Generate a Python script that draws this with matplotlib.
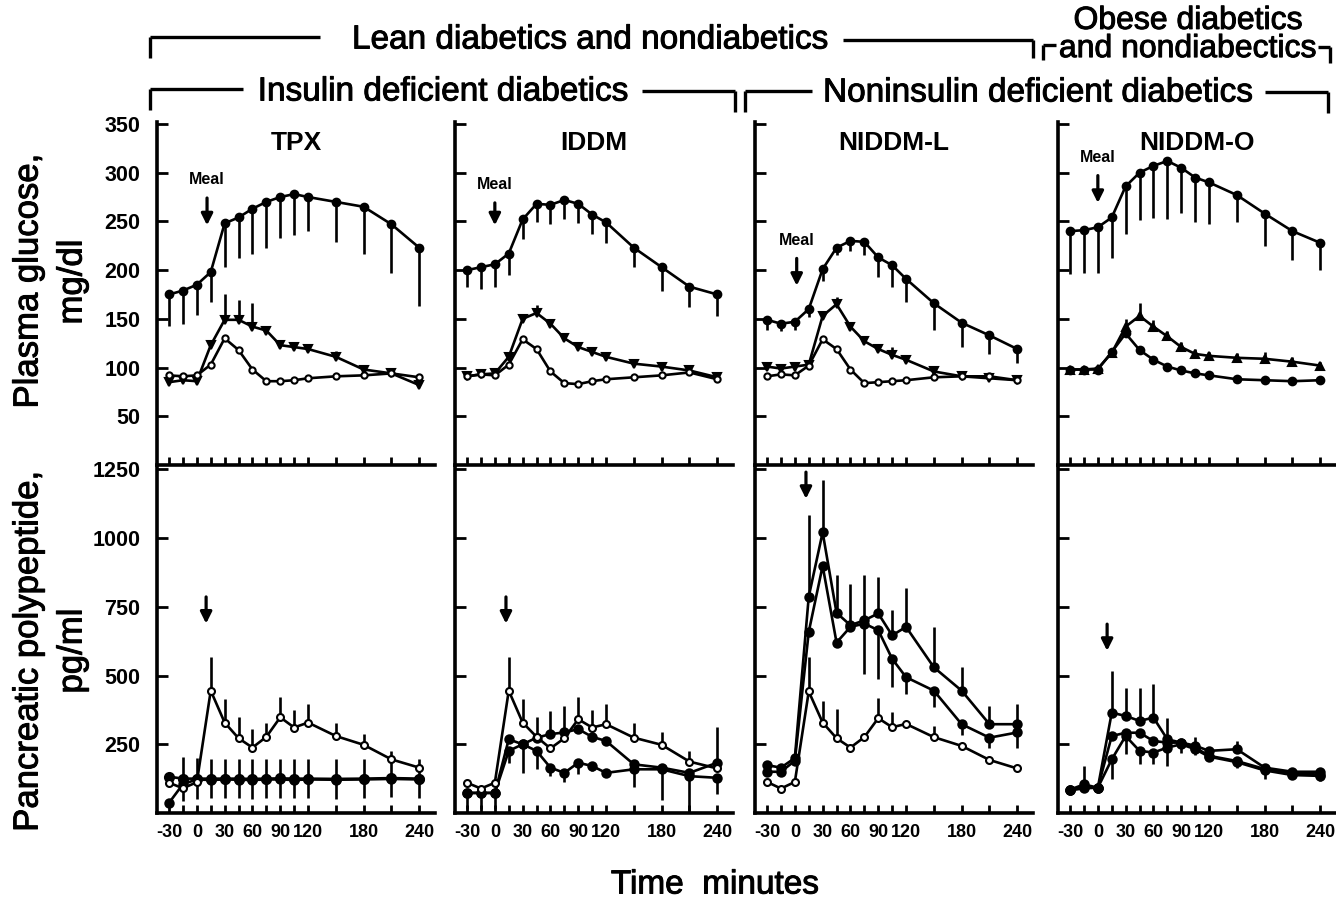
import matplotlib
matplotlib.use("Agg")
import matplotlib.pyplot as plt
import matplotlib.patheffects as pe
from matplotlib.lines import Line2D

plt.rcParams["font.family"] = ["Liberation Sans", "DejaVu Sans"]

# ---------------- data -----------------------------------------------
TIMES = [-30, -15, 0, 15, 30, 45, 60, 75, 90, 105, 120, 150, 180, 210, 240]
XTICK_LABELS = ["-30", "", "0", "", "30", "", "60", "", "90", "", "120", "", "180", "", "240"]
PANELS = ["TPX", "IDDM", "NIDDM-L", "NIDDM-O"]
GLU_TICKS = [50, 100, 150, 200, 250, 300, 350]
PP_TICKS = [250, 500, 750, 1000, 1250]

# plasma glucose, mg/dl  (hi = diabetic group, mid = triangles, low = controls)
GLU_TPX_HI = [175, 179, 185, 198, 248, 254, 263, 270, 275, 278, 275, 270, 265, 247, 223]
GLU_TPX_HI_SEM = [32, 34, 31, 31, 45, 42, 46, 47, 42, 42, 35, 41, 48, 50, 60]
GLU_TPX_MID = [85, 87, 86, 123, 149, 149, 142, 138, 123, 121, 119, 111, 98, 94, 82]
GLU_TPX_MID_SEM = [0, 0, 0, 0, 27, 20, 24, 0, 0, 0, 0, 6, 0, 0, 0]
GLU_TPX_LOW = [92, 91, 92, 103, 130, 118, 98, 86, 86, 87, 89, 91, 92, 94, 90]

GLU_IDDM_HI = [200, 203, 206, 217, 252, 268, 267, 272, 268, 257, 249, 223, 203, 183, 175]
GLU_IDDM_HI_SEM = [17, 22, 23, 22, 20, 19, 20, 20, 20, 20, 21, 20, 24, 21, 22]
GLU_IDDM_MID = [91, 93, 94, 111, 150, 156, 145, 130, 121, 116, 111, 104, 101, 97, 90]
GLU_IDDM_MID_SEM = [0, 0, 0, 0, 0, 8, 0, 0, 0, 0, 0, 0, 0, 0, 0]
GLU_IDDM_LOW = [91, 93, 92, 103, 129, 119, 96, 84, 83, 86, 88, 90, 92, 95, 88]

GLU_NL_HI = [149, 145, 147, 160, 201, 223, 230, 229, 213, 205, 191, 166, 146, 133, 119]
GLU_NL_HI_SEM = [10, 7, 8, 8, 12, 8, 10, 14, 20, 22, 24, 27, 25, 19, 14]
GLU_NL_MID = [101, 99, 101, 103, 153, 165, 142, 127, 119, 113, 108, 96, 91, 89, 87]
GLU_NL_MID_SEM = [0, 0, 0, 0, 0, 7, 0, 0, 0, 8, 0, 0, 0, 0, 0]
GLU_NL_LOW = [91, 93, 92, 102, 129, 119, 98, 84, 85, 86, 87, 90, 91, 91, 87]

GLU_NO_HI = [240, 241, 244, 254, 286, 300, 307, 312, 305, 295, 290, 277, 258, 240, 228]
GLU_NO_HI_SEM = [44, 44, 47, 42, 49, 49, 54, 60, 46, 46, 43, 28, 33, 30, 28]
GLU_NO_MID = [98, 98, 99, 115, 142, 153, 142, 132, 121, 114, 112, 110, 109, 106, 102]
GLU_NO_MID_SEM = [0, 0, 0, 0, 8, 13, 7, 6, 5, 5, 4, 5, 7, 5, 4]
GLU_NO_LOW = [98, 98, 98, 116, 135, 118, 108, 101, 97, 94, 92, 88, 87, 86, 87]

# pancreatic polypeptide, pg/ml
PP_TPX_OPEN = [110, 90, 112, 445, 329, 272, 238, 277, 348, 311, 329, 280, 248, 195, 165]
PP_TPX_OPEN_SEM = [0, 0, 0, 122, 85, 76, 67, 52, 73, 64, 67, 49, 41, 30, 12]
PP_TPX_A = [132, 125, 125, 125, 125, 125, 124, 125, 126, 125, 125, 124, 125, 127, 125]
PP_TPX_A_SEM = [0, 80, 75, 70, 72, 70, 72, 70, 70, 70, 70, 72, 70, 70, 70]
PP_TPX_B = [37, 105, 122, 120, 122, 121, 120, 122, 122, 120, 122, 121, 122, 124, 122]

PP_IDDM_OPEN = [110, 89, 110, 445, 329, 277, 235, 272, 341, 311, 323, 274, 248, 187, 162]
PP_IDDM_OPEN_SEM = [0, 0, 0, 122, 86, 71, 0, 0, 80, 64, 73, 52, 45, 39, 0]
PP_IDDM_A = [73, 73, 73, 268, 250, 274, 287, 293, 305, 277, 262, 177, 165, 146, 183]
PP_IDDM_A_SEM = [0, 0, 0, 0, 0, 0, 83, 97, 0, 0, 0, 0, 0, 0, 130]
PP_IDDM_B = [73, 73, 73, 226, 250, 226, 165, 146, 183, 171, 146, 159, 159, 134, 128]
PP_IDDM_B_SEM = [60, 60, 60, 43, 104, 65, 30, 35, 40, 20, 15, 65, 110, 125, 60]

PP_NL_OPEN = [113, 89, 113, 442, 329, 272, 238, 276, 345, 312, 324, 276, 244, 193, 162]
PP_NL_OPEN_SEM = [0, 0, 0, 125, 79, 105, 0, 0, 73, 54, 0, 40, 0, 0, 0]
PP_NL_A = [174, 165, 200, 787, 1021, 728, 683, 701, 726, 646, 677, 530, 445, 323, 323]
PP_NL_A_SEM = [0, 0, 0, 298, 190, 138, 150, 165, 131, 94, 140, 147, 85, 67, 73]
PP_NL_B = [150, 150, 190, 659, 899, 620, 677, 689, 665, 561, 494, 445, 323, 274, 293]
PP_NL_B_SEM = [0, 0, 0, 0, 0, 0, 0, 183, 177, 104, 61, 61, 40, 36, 55]

PP_NO_A = [85, 104, 92, 365, 353, 335, 347, 268, 256, 245, 226, 232, 165, 150, 150]
PP_NO_A_SEM = [0, 67, 0, 152, 103, 121, 121, 79, 0, 30, 0, 30, 0, 0, 0]
PP_NO_B = [85, 95, 92, 280, 292, 292, 262, 256, 256, 238, 208, 189, 160, 143, 140]
PP_NO_C = [82, 90, 92, 195, 280, 226, 220, 238, 250, 232, 205, 185, 155, 138, 135]
PP_NO_C_SEM = [0, 0, 0, 70, 66, 49, 43, 67, 30, 20, 15, 20, 30, 15, 20]

# meal arrows: time, arrow top, arrow tip
MEAL_GLU = [(11, 274, 246), (0, 269, 246), (2, 212, 184), (0, 297, 269)]
MEAL_PP = [(10, 786, 689), (12, 786, 689), (12, 1240, 1143), (10, 687, 590)]

# ---------------- layout (pixels of the 1336x906 original) -------------
W, H = 1336, 906
COL_LEFT = [157, 455, 755, 1058]
COL_W = 278
GLU_TOP, GLU_BOT = 122, 465
PP_TOP, PP_BOT = 468, 813

# slightly heavier strokes, like the printed original
HEAVY = [pe.withStroke(linewidth=0.7, foreground="black")]


def fx(px):
    return px / W


def fy(py):
    return 1 - py / H


def series(ax, y, sem=None, down=False, both=False, marker="o", open_=False, ms=5.5, z=3):
    if sem is None:
        sem = [0] * len(y)
    zero = [0] * len(y)
    if both:
        err = [sem, sem]
    elif down:
        err = [sem, zero]
    else:
        err = [zero, sem]
    ax.errorbar(TIMES, y, yerr=err, fmt="-", marker=marker, color="black",
                mfc="white" if open_ else "black", mec="black", mew=1.5,
                ms=ms, lw=1.9, elinewidth=1.9, capsize=0, zorder=z)


def style(ax, top_row, first_col):
    for s in ("top", "right"):
        ax.spines[s].set_visible(False)
    for s in ("left", "bottom"):
        ax.spines[s].set_linewidth(2.6)
    ax.set_xlim(-43, 257)
    ax.set_xticks(TIMES)
    ax.tick_params(axis="x", direction="in", length=6, width=2.0, pad=8,
                   labelsize=13)
    ax.tick_params(axis="y", direction="in", length=8, width=2.0, pad=12,
                   labelsize=15.5)
    if top_row:
        ax.set_ylim(0, 352)
        ax.set_yticks(GLU_TICKS)
        ax.set_xticklabels([])
    else:
        ax.set_ylim(0, 1255)
        ax.set_yticks(PP_TICKS)
        ax.set_xticklabels(XTICK_LABELS, fontweight="bold")
    if first_col:
        for lab in ax.get_yticklabels():
            lab.set_fontweight("bold")
    else:
        ax.tick_params(axis="y", labelleft=False)


def arrow(ax, t, y0, y1):
    ax.annotate("", xy=(t, y1), xytext=(t, y0),
                arrowprops=dict(arrowstyle="-|>", color="black", lw=2.3,
                                mutation_scale=17, shrinkA=0, shrinkB=0),
                zorder=6)


fig = plt.figure(figsize=(W / 100, H / 100), dpi=100)

glu_axes, pp_axes = [], []
for i, left in enumerate(COL_LEFT):
    ag = fig.add_axes([fx(left), fy(GLU_BOT), COL_W / W, (GLU_BOT - GLU_TOP) / H])
    ap = fig.add_axes([fx(left), fy(PP_BOT), COL_W / W, (PP_BOT - PP_TOP) / H])
    style(ag, True, i == 0)
    style(ap, False, i == 0)
    ag.text(0.5, 0.939, PANELS[i], transform=ag.transAxes, ha="center",
            va="center", fontsize=19, fontweight="bold")
    glu_axes.append(ag)
    pp_axes.append(ap)

# glucose panels
g = glu_axes
series(g[0], GLU_TPX_HI, GLU_TPX_HI_SEM, down=True)
series(g[0], GLU_TPX_MID, GLU_TPX_MID_SEM, marker="v", ms=6)
series(g[0], GLU_TPX_LOW, open_=True, ms=4.5, z=4)

series(g[1], GLU_IDDM_HI, GLU_IDDM_HI_SEM, down=True)
series(g[1], GLU_IDDM_MID, GLU_IDDM_MID_SEM, marker="v", ms=6)
series(g[1], GLU_IDDM_LOW, open_=True, ms=4.5, z=4)

series(g[2], GLU_NL_HI, GLU_NL_HI_SEM, down=True)
series(g[2], GLU_NL_MID, GLU_NL_MID_SEM, marker="v", ms=6)
series(g[2], GLU_NL_LOW, open_=True, ms=4.5, z=4)

series(g[3], GLU_NO_HI, GLU_NO_HI_SEM, down=True)
series(g[3], GLU_NO_MID, GLU_NO_MID_SEM, marker="^", ms=5.5)
series(g[3], GLU_NO_LOW, ms=5.5)

# pancreatic polypeptide panels
p = pp_axes
series(p[0], PP_TPX_A, PP_TPX_A_SEM, both=True, ms=6.5)
series(p[0], PP_TPX_B, ms=6)
series(p[0], PP_TPX_OPEN, PP_TPX_OPEN_SEM, open_=True, ms=5, z=4)

series(p[1], PP_IDDM_A, PP_IDDM_A_SEM, ms=6)
series(p[1], PP_IDDM_B, PP_IDDM_B_SEM, down=True, ms=6)
series(p[1], PP_IDDM_OPEN, PP_IDDM_OPEN_SEM, open_=True, ms=5, z=4)

series(p[2], PP_NL_A, PP_NL_A_SEM, ms=6)
series(p[2], PP_NL_B, PP_NL_B_SEM, down=True, ms=6)
series(p[2], PP_NL_OPEN, PP_NL_OPEN_SEM, open_=True, ms=5, z=4)

series(p[3], PP_NO_A, PP_NO_A_SEM, ms=6)
series(p[3], PP_NO_B, ms=6)
series(p[3], PP_NO_C, PP_NO_C_SEM, down=True, ms=6)

for ax, (t, y0, y1) in zip(glu_axes, MEAL_GLU):
    arrow(ax, t, y0, y1)
    ax.text(t, y0 + 11, "Meal", ha="center", va="bottom", fontsize=11.5,
            fontweight="bold")
for ax, (t, y0, y1) in zip(pp_axes, MEAL_PP):
    arrow(ax, t, y0, y1)

# axis titles
for x, y, s in [(28, 281, "Plasma glucose,"), (72, 282, "mg/dl"),
                (28, 651, "Pancreatic polypeptide,"), (72, 651, "pg/ml")]:
    fig.text(fx(x), fy(y), s, rotation=90, ha="center", va="center",
             fontsize=25, path_effects=HEAVY)
fig.text(fx(715), fy(885), "Time  minutes", ha="center", va="center",
         fontsize=24, path_effects=HEAVY)


# group brackets along the top
def seg(x0, y0, x1, y1):
    fig.add_artist(Line2D([fx(x0), fx(x1)], [fy(y0), fy(y1)],
                          transform=fig.transFigure, color="black", lw=2.4,
                          solid_capstyle="butt"))


def header(x, y, s, size=24):
    fig.text(fx(x), fy(y), s, ha="center", va="center", fontsize=size,
             path_effects=HEAVY, linespacing=0.92)


# lean diabetics and nondiabetics
seg(150, 37, 150, 58)
seg(150, 37, 320, 37)
seg(843, 40, 1033, 40)
seg(1033, 40, 1033, 58)
header(590, 40, "Lean diabetics and nondiabetics")
# obese
seg(1043, 45, 1043, 60)
seg(1043, 45, 1056, 45)
seg(1318, 47, 1330, 47)
seg(1330, 47, 1330, 63)
header(1188, 35, "Obese diabetics\nand nondiabectics", size=23)
# insulin deficient
seg(150, 89, 150, 110)
seg(150, 89, 243, 89)
seg(642, 91, 735, 91)
seg(735, 91, 735, 112)
header(443, 92, "Insulin deficient diabetics")
# noninsulin deficient
seg(745, 91, 745, 112)
seg(745, 91, 812, 91)
seg(1265, 92, 1328, 92)
seg(1328, 92, 1328, 113)
header(1038, 93, "Noninsulin deficient diabetics")

fig.savefig("out.png", dpi=100)
